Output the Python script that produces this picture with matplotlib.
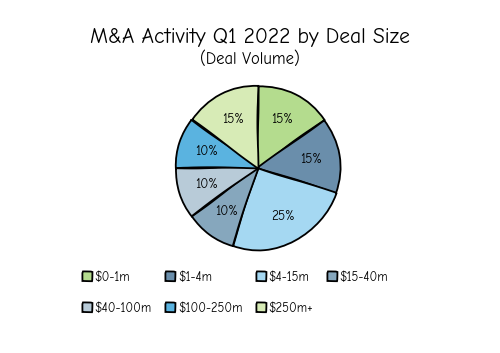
import matplotlib
matplotlib.use('Agg')
import matplotlib.pyplot as plt

labels = ['$0-1m', '$1-4m', '$4-15m', '$15-40m', '$40-100m', '$100-250m', '$250m+']
shares = [15, 15, 25, 10, 10, 10, 15]
colors = ['#b4dc8e', '#6a8eab', '#a5d8f2', '#86a7bd', '#b8cbd8', '#5ab3e0', '#d7ebb6']

plt.xkcd(scale=0.6, length=120, randomness=2)
plt.rcParams['path.effects'] = []
plt.rcParams['font.family'] = ['Comic Neue', 'Lato', 'DejaVu Sans']

fig = plt.figure(figsize=(5, 3.53), dpi=100)
ax = fig.add_axes([0.311, 0.234, 0.41, 0.581])
wedges, texts, autotexts = ax.pie(
    shares, colors=colors, startangle=90, counterclock=False,
    autopct='%d%%', pctdistance=0.66,
    wedgeprops=dict(edgecolor='black', linewidth=1.3),
    textprops=dict(fontsize=9.5))
ax.set_aspect('equal')

fig.text(0.5, 0.893, 'M&A Activity Q1 2022 by Deal Size', ha='center', va='center', fontsize=15.5)
fig.text(0.5, 0.833, '(Deal Volume)', ha='center', va='center', fontsize=12)

# legend fills columns first, so reorder to read row by row
order = [0, 4, 1, 5, 2, 6, 3]
fig.legend([wedges[i] for i in order], [labels[i] for i in order],
           loc='lower left', bbox_to_anchor=(0.165, 0.108),
           ncol=4, frameon=False, fontsize=9, handlelength=0.75, handleheight=0.75,
           handletextpad=0.2, columnspacing=1.15, labelspacing=1.45,
           borderaxespad=0, borderpad=0)

fig.savefig('out.png', dpi=100, facecolor='white')
